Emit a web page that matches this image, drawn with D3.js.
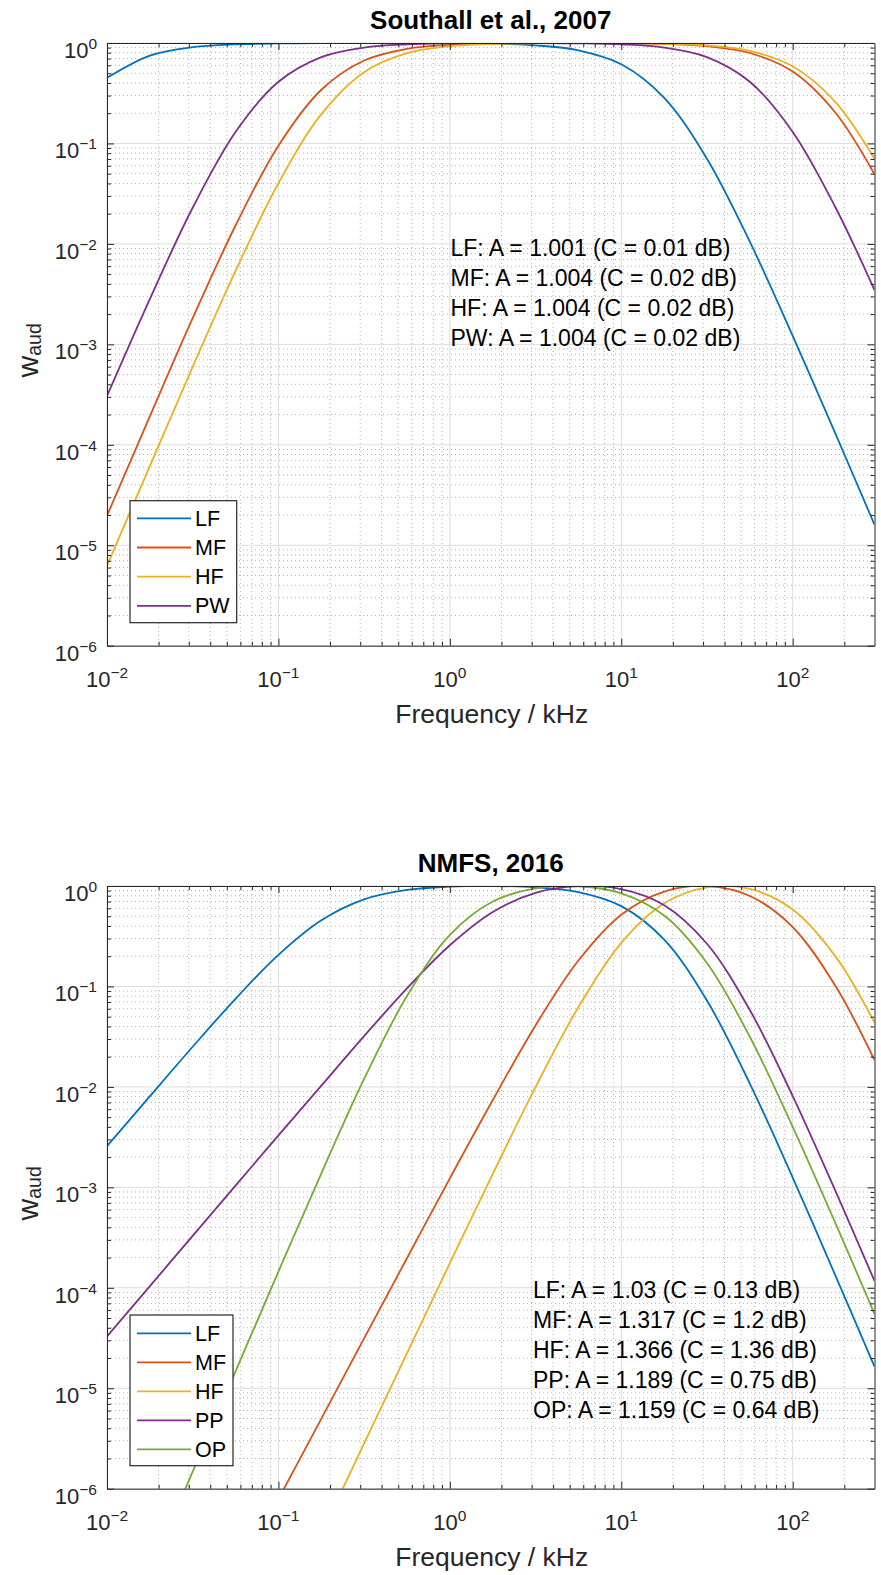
<!DOCTYPE html>
<html>
<head>
<meta charset="utf-8">
<script src="https://cdn.jsdelivr.net/npm/d3@7"></script>
<style>
  body { margin: 0; background: #fff; }
  svg { display: block; }
  text { font-family: "Liberation Sans", Arial, Helvetica, sans-serif; fill: #262626; }
</style>
</head>
<body>
<svg id="fig" width="881" height="1575"></svg>
<script>
// Frequencies (kHz) at which the weighting curves are tabulated
const freqs = [0.01, 0.0178, 0.0316, 0.0562, 0.1, 0.178, 0.316, 0.562, 1, 1.78, 3.16, 5.62, 10, 17.8, 31.6, 56.2, 100, 178, 300];

// Southall et al. (2007) weighting
const southallNames = ["LF", "MF", "HF", "PW"];
const southallLF = [0.450, 0.750, 0.909, 0.970, 0.990, 0.997, 0.999, 0.999, 0.995, 0.984, 0.948, 0.846, 0.614, 0.2845, 0.0704, 0.01051, 1.215e-3, 1.275e-4, 1.60e-5];
const southallMF = [1.97e-5, 1.93e-4, 1.82e-3, 0.01524, 0.0951, 0.3426, 0.669, 0.875, 0.960, 0.990, 0.999, 1.000, 0.996, 0.980, 0.930, 0.795, 0.519, 0.201, 0.0493];
const southallHF = [6.24e-6, 6.18e-5, 5.97e-4, 5.39e-3, 0.0402, 0.1957, 0.512, 0.791, 0.928, 0.979, 0.995, 1.000, 0.997, 0.985, 0.945, 0.834, 0.586, 0.257, 0.0704];
const southallPW = [3.06e-4, 2.84e-3, 0.0229, 0.130, 0.411, 0.724, 0.900, 0.969, 0.992, 0.999, 0.999, 0.992, 0.969, 0.900, 0.724, 0.4115, 0.1301, 0.0229, 3.47e-3];
const southallNotes = [
  "LF: A = 1.001 (C = 0.01 dB)",
  "MF: A = 1.004 (C = 0.02 dB)",
  "HF: A = 1.004 (C = 0.02 dB)",
  "PW: A = 1.004 (C = 0.02 dB)"
];

// NMFS (2016) weighting
const nmfsNames = ["LF", "MF", "HF", "PP", "OP"];
const nmfsLF = [2.57e-3, 8.08e-3, 0.0251, 0.0754, 0.206, 0.455, 0.735, 0.913, 0.985, 1.000, 0.971, 0.870, 0.631, 0.293, 0.0725, 0.0108, 1.25e-3, 1.31e-4, 1.64e-5];
const nmfsMF = [4.98e-10, 3.14e-9, 1.98e-8, 1.25e-7, 7.89e-7, 4.98e-6, 3.14e-5, 1.97e-4, 1.23e-3, 7.40e-3, 0.0409, 0.181, 0.518, 0.881, 0.997, 0.796, 0.390, 0.1005, 0.0185];
const nmfsHF = [1.12e-11, 8.9e-11, 7.1e-10, 5.6e-9, 4.47e-8, 3.55e-7, 2.82e-6, 2.23e-5, 1.76e-4, 1.36e-3, 9.94e-3, 0.0622, 0.272, 0.673, 0.970, 0.935, 0.584, 0.198, 0.0436];
const nmfsPP = [3.29e-5, 1.04e-4, 3.29e-4, 1.04e-3, 3.29e-3, 0.0103, 0.0320, 0.0957, 0.257, 0.551, 0.855, 0.996, 0.930, 0.644, 0.266, 0.0583, 8.10e-3, 9.11e-4, 1.17e-4];
const nmfsOP = [1.48e-8, 1.48e-7, 1.48e-6, 1.47e-5, 1.45e-4, 1.38e-3, 0.0120, 0.0804, 0.326, 0.701, 0.948, 0.994, 0.846, 0.508, 0.171, 0.0316, 4.01e-3, 4.35e-4, 5.51e-5];
const nmfsNotes = [
  "LF: A = 1.03 (C = 0.13 dB)",
  "MF: A = 1.317 (C = 1.2 dB)",
  "HF: A = 1.366 (C = 1.36 dB)",
  "PP: A = 1.189 (C = 0.75 dB)",
  "OP: A = 1.159 (C = 0.64 dB)"
];

// Axis decades
const xTickExps = [-2, -1, 0, 1, 2];
const yTickExps = [-6, -5, -4, -3, -2, -1, 0];

const seriesColors = ["#0072BD", "#D95319", "#EDB120", "#7E2F8E", "#77AC30"];

const svg = d3.select("#fig");
const AX_L = 107, AX_R = 874.5;
const INK = "#262626";

function supLabel(sel, exp) {
  sel.append("tspan").text("10");
  sel.append("tspan").attr("dy", -9).attr("font-size", 15.5)
    .text(exp < 0 ? "\u2212" + (-exp) : String(exp));
}

function drawPanel(cfg) {
  const g = svg.append("g");
  const x = d3.scaleLog().domain([0.01, 300]).range([AX_L, AX_R]);
  const y = d3.scaleLog().domain([1e-6, 1]).range([cfg.bottom, cfg.top]);

  // grid values
  const xMajor = xTickExps.map(e => Math.pow(10, e));
  const yMajor = yTickExps.map(e => Math.pow(10, e));
  const xMinor = [], yMinor = [];
  for (let e = -2; e <= 2; e++) for (let m = 2; m <= 9; m++) { const v = m * Math.pow(10, e); if (v < 300) xMinor.push(v); }
  for (let e = -6; e < 0; e++) for (let m = 2; m <= 9; m++) yMinor.push(m * Math.pow(10, e));

  // minor grid (dotted)
  const grid = g.append("g");
  grid.selectAll(".xmin").data(xMinor).join("line")
    .attr("x1", d => x(d)).attr("x2", d => x(d))
    .attr("y1", cfg.top).attr("y2", cfg.bottom)
    .attr("stroke", "#b4b4b4").attr("stroke-width", 1).attr("stroke-dasharray", "1,3");
  grid.selectAll(".ymin").data(yMinor).join("line")
    .attr("y1", d => y(d)).attr("y2", d => y(d))
    .attr("x1", AX_L).attr("x2", AX_R)
    .attr("stroke", "#b4b4b4").attr("stroke-width", 1).attr("stroke-dasharray", "1,3");
  // major grid (solid, light)
  grid.selectAll(".xmaj").data(xMajor).join("line")
    .attr("x1", d => x(d)).attr("x2", d => x(d))
    .attr("y1", cfg.top).attr("y2", cfg.bottom)
    .attr("stroke", "#dcdcdc").attr("stroke-width", 1);
  grid.selectAll(".ymaj").data(yMajor).join("line")
    .attr("y1", d => y(d)).attr("y2", d => y(d))
    .attr("x1", AX_L).attr("x2", AX_R)
    .attr("stroke", "#dcdcdc").attr("stroke-width", 1);

  // curves
  const clipId = "clip-" + cfg.id;
  svg.append("clipPath").attr("id", clipId).append("rect")
    .attr("x", AX_L).attr("y", cfg.top).attr("width", AX_R - AX_L).attr("height", cfg.bottom - cfg.top);
  const line = d3.line().x(d => x(d[0])).y(d => y(d[1])).curve(d3.curveCatmullRom.alpha(0.5));
  const curves = g.append("g").attr("clip-path", `url(#${clipId})`);
  cfg.series.forEach((vals, i) => {
    curves.append("path")
      .datum(freqs.map((f, k) => [f, vals[k]]))
      .attr("d", line)
      .attr("fill", "none")
      .attr("stroke", seriesColors[i])
      .attr("stroke-width", 1.8)
      .attr("stroke-linejoin", "round");
  });

  // axes: ticks inward on all four sides
  const axes = g.append("g");
  const mk = (gen, scale, vals, size) => gen(scale).tickValues(vals).tickSizeInner(-size).tickSizeOuter(0).tickFormat(() => "");
  const place = [
    [d3.axisBottom, x, `translate(0,${cfg.bottom})`],
    [d3.axisTop, x, `translate(0,${cfg.top})`],
    [d3.axisLeft, y, `translate(${AX_L},0)`],
    [d3.axisRight, y, `translate(${AX_R},0)`]
  ];
  place.forEach(([gen, scale, tr], j) => {
    const isX = j < 2;
    axes.append("g").attr("transform", tr)
      .call(mk(gen, scale, isX ? xMinor : yMinor, 4))
      .call(s => s.select(".domain").remove());
    axes.append("g").attr("transform", tr)
      .call(mk(gen, scale, isX ? xMajor : yMajor, 7));
  });
  axes.selectAll("line, path").attr("stroke", INK).attr("stroke-width", 1);
  axes.selectAll("text").remove();

  // tick labels
  g.append("g").selectAll("text").data(xTickExps).join("text")
    .attr("x", d => x(Math.pow(10, d)))
    .attr("y", cfg.bottom + 41)
    .attr("text-anchor", "middle")
    .attr("font-size", 22)
    .each(function (d) { supLabel(d3.select(this), d); });
  g.append("g").selectAll("text").data(yTickExps).join("text")
    .attr("x", AX_L - 10)
    .attr("y", d => y(Math.pow(10, d)) + 15)
    .attr("text-anchor", "end")
    .attr("font-size", 22)
    .each(function (d) { supLabel(d3.select(this), d); });

  // axis labels
  g.append("text")
    .attr("x", (AX_L + AX_R) / 2 + 1).attr("y", cfg.bottom + 77)
    .attr("text-anchor", "middle").attr("font-size", 26.5)
    .text("Frequency / kHz");
  const yl = g.append("text")
    .attr("transform", `translate(38,${(cfg.top + cfg.bottom) / 2 + 6}) rotate(-90)`)
    .attr("text-anchor", "middle").attr("font-size", 30);
  yl.append("tspan").text("w");
  yl.append("tspan").attr("dy", 3).attr("font-size", 19.5).text("aud");

  // title
  g.append("text")
    .attr("x", (AX_L + AX_R) / 2).attr("y", cfg.top - 14)
    .attr("text-anchor", "middle").attr("font-size", 26).attr("font-weight", "bold")
    .style("fill", "#000")
    .text(cfg.title);

  // annotation block
  g.append("g").selectAll("text").data(cfg.notes).join("text")
    .attr("x", cfg.notesX)
    .attr("y", (d, i) => cfg.notesY + i * 30)
    .attr("font-size", 23)
    .style("fill", "#000")
    .text(d => d);

  // legend
  const lg = cfg.legend;
  const leg = g.append("g");
  leg.append("rect")
    .attr("x", lg.x).attr("y", lg.y).attr("width", lg.w).attr("height", lg.h)
    .attr("fill", "#fff").attr("stroke", INK).attr("stroke-width", 1.2);
  cfg.names.forEach((n, i) => {
    const cy = lg.y + lg.first + i * lg.step;
    leg.append("line")
      .attr("x1", lg.x + 7).attr("x2", lg.x + 61)
      .attr("y1", cy).attr("y2", cy)
      .attr("stroke", seriesColors[i]).attr("stroke-width", 1.8);
    leg.append("text")
      .attr("x", lg.x + 65).attr("y", cy + 7.5)
      .attr("font-size", 21.5).style("fill", "#000")
      .text(n);
  });
}

drawPanel({
  id: "southall",
  top: 43, bottom: 645.7,
  title: "Southall et al., 2007",
  series: [southallLF, southallMF, southallHF, southallPW],
  names: southallNames,
  notes: southallNotes, notesX: 450.5, notesY: 256,
  legend: { x: 130, y: 500.7, w: 106.7, h: 122, first: 17.6, step: 29.2 }
});

drawPanel({
  id: "nmfs",
  top: 886, bottom: 1488.7,
  title: "NMFS, 2016",
  series: [nmfsLF, nmfsMF, nmfsHF, nmfsPP, nmfsOP],
  names: nmfsNames,
  notes: nmfsNotes, notesX: 533, notesY: 1298,
  legend: { x: 130, y: 1315, w: 103, h: 150.7, first: 18.3, step: 29 }
});
</script>
</body>
</html>
